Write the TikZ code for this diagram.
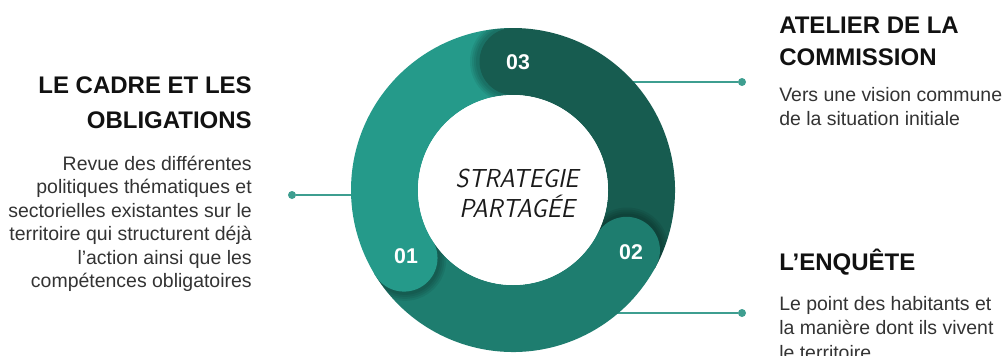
\documentclass[tikz,border=0pt]{standalone}
\usepackage{fontspec}
\setmainfont{Liberation Sans}
\usetikzlibrary{calc}
\definecolor{colA}{HTML}{259A8A}
\definecolor{colB}{HTML}{1E7D6F}
\definecolor{colC}{HTML}{175C50}
\definecolor{linec}{HTML}{3E9E90}
\definecolor{titlec}{HTML}{111111}
\definecolor{bodyc}{HTML}{333333}
\definecolor{handc}{HTML}{1A1A1A}
\begin{document}
\begin{tikzpicture}[x=0.75pt,y=0.75pt,
  title/.style={font=\fontsize{18}{20}\selectfont\bfseries, text=titlec, inner sep=0pt},
  bodytxt/.style={font=\fontsize{14.6}{17}\selectfont, text=bodyc, inner sep=0pt},
  numtxt/.style={font=\fontsize{16}{18}\selectfont\bfseries, text=white, inner sep=0pt},
  handtxt/.style={font=\fontsize{19.5}{20}\sffamily\slshape\selectfont, text=handc, inner sep=0pt, xscale=0.95},
  dotnode/.style={circle, fill=linec, inner sep=0pt, minimum size=6pt},
  conn/.style={draw=linec, line width=1.1pt},
  seg/.style={line width=50.25pt},
  shade/.style={fill=black, opacity=0.07}]
\useasboundingbox (0,0) rectangle (1006,355);
\clip (0,0) rectangle (1006,355);
\coordinate (c) at (513,165);
% connectors
\node[dotnode] (dL) at (292,160) {};
\node[dotnode] (dT) at (742,273) {};
\node[dotnode] (dB) at (742,42) {};
\draw[conn] (dL) -- (dL -| c);
\draw[conn] (dT) -- (dT -| c);
\draw[conn] (dB) -- (dB -| c);
% ring
\begin{scope}[shift={(513,165)}]
  \draw[seg, colB] (211:128.5) arc[start angle=211, end angle=332, radius=128.5];
  \draw[seg, colC] (331:128.5) arc[start angle=331, end angle=451, radius=128.5];
  \draw[seg, colA] (89:128.5) arc[start angle=89, end angle=212, radius=128.5];
  % shadows and heads
  \foreach \a/\col in {90/colC, 332/colB, 212/colA}{
    \begin{scope}
      \clip (0,0) circle[radius=162];
      \clip (0,0) -- (\a:220) -- (\a+20:220) -- (\a+40:220) -- cycle;
      \foreach \k in {8,6,4,2}{
        \fill[shade] ($(\a:128.5)+(\a+90:1.5)$) circle[radius=33.5+\k];
      }
    \end{scope}
    \fill[\col] (\a:128.5) circle[radius=33.5];
  }
  \node[circle, fill=white, minimum size=142.5pt, inner sep=0pt] (hole) at (0,0) {};
  \node[handtxt, anchor=base] (s1) at (4,3) {STRATEGIE};
  \node[handtxt, anchor=base] (s2) at (4,-27) {PARTAGÉE};
  \node[numtxt] (n3) at (5,128) {03};
  \node[numtxt] (n2) at (118,-62) {02};
  \node[numtxt] (n1) at (-107,-66) {01};
\end{scope}
% left text
\node[title, anchor=base east] (lt1) at (252,262) {LE CADRE ET LES};
\node[title, anchor=base east] (lt2) at (252,227) {OBLIGATIONS};
\node[bodytxt, anchor=base east] (lb1) at (252,185) {Revue des différentes};
\node[bodytxt, anchor=base east] (lb2) at (252,161.5) {politiques thématiques et};
\node[bodytxt, anchor=base east] (lb3) at (252,138) {sectorielles existantes sur le};
\node[bodytxt, anchor=base east] (lb4) at (252,114.5) {territoire qui structurent déjà};
\node[bodytxt, anchor=base east] (lb5) at (252,91) {l’action ainsi que les};
\node[bodytxt, anchor=base east] (lb6) at (252,67.5) {compétences obligatoires};
% right top text
\node[title, anchor=base west] (rt1) at (779,322) {ATELIER DE LA};
\node[title, anchor=base west] (rt2) at (779,290) {COMMISSION};
\node[bodytxt, anchor=base west] (rb1) at (779,254) {Vers une vision commune};
\node[bodytxt, anchor=base west] (rb2) at (779,229.5) {de la situation initiale};
% right bottom text
\node[title, anchor=base west] (qt1) at (779,85) {L’ENQUÊTE};
\node[bodytxt, anchor=base west] (qb1) at (779,45) {Le point des habitants et};
\node[bodytxt, anchor=base west] (qb2) at (779,20.5) {la manière dont ils vivent};
\node[bodytxt, anchor=base west] (qb3) at (779,-4) {le territoire};
\end{tikzpicture}
\end{document}
